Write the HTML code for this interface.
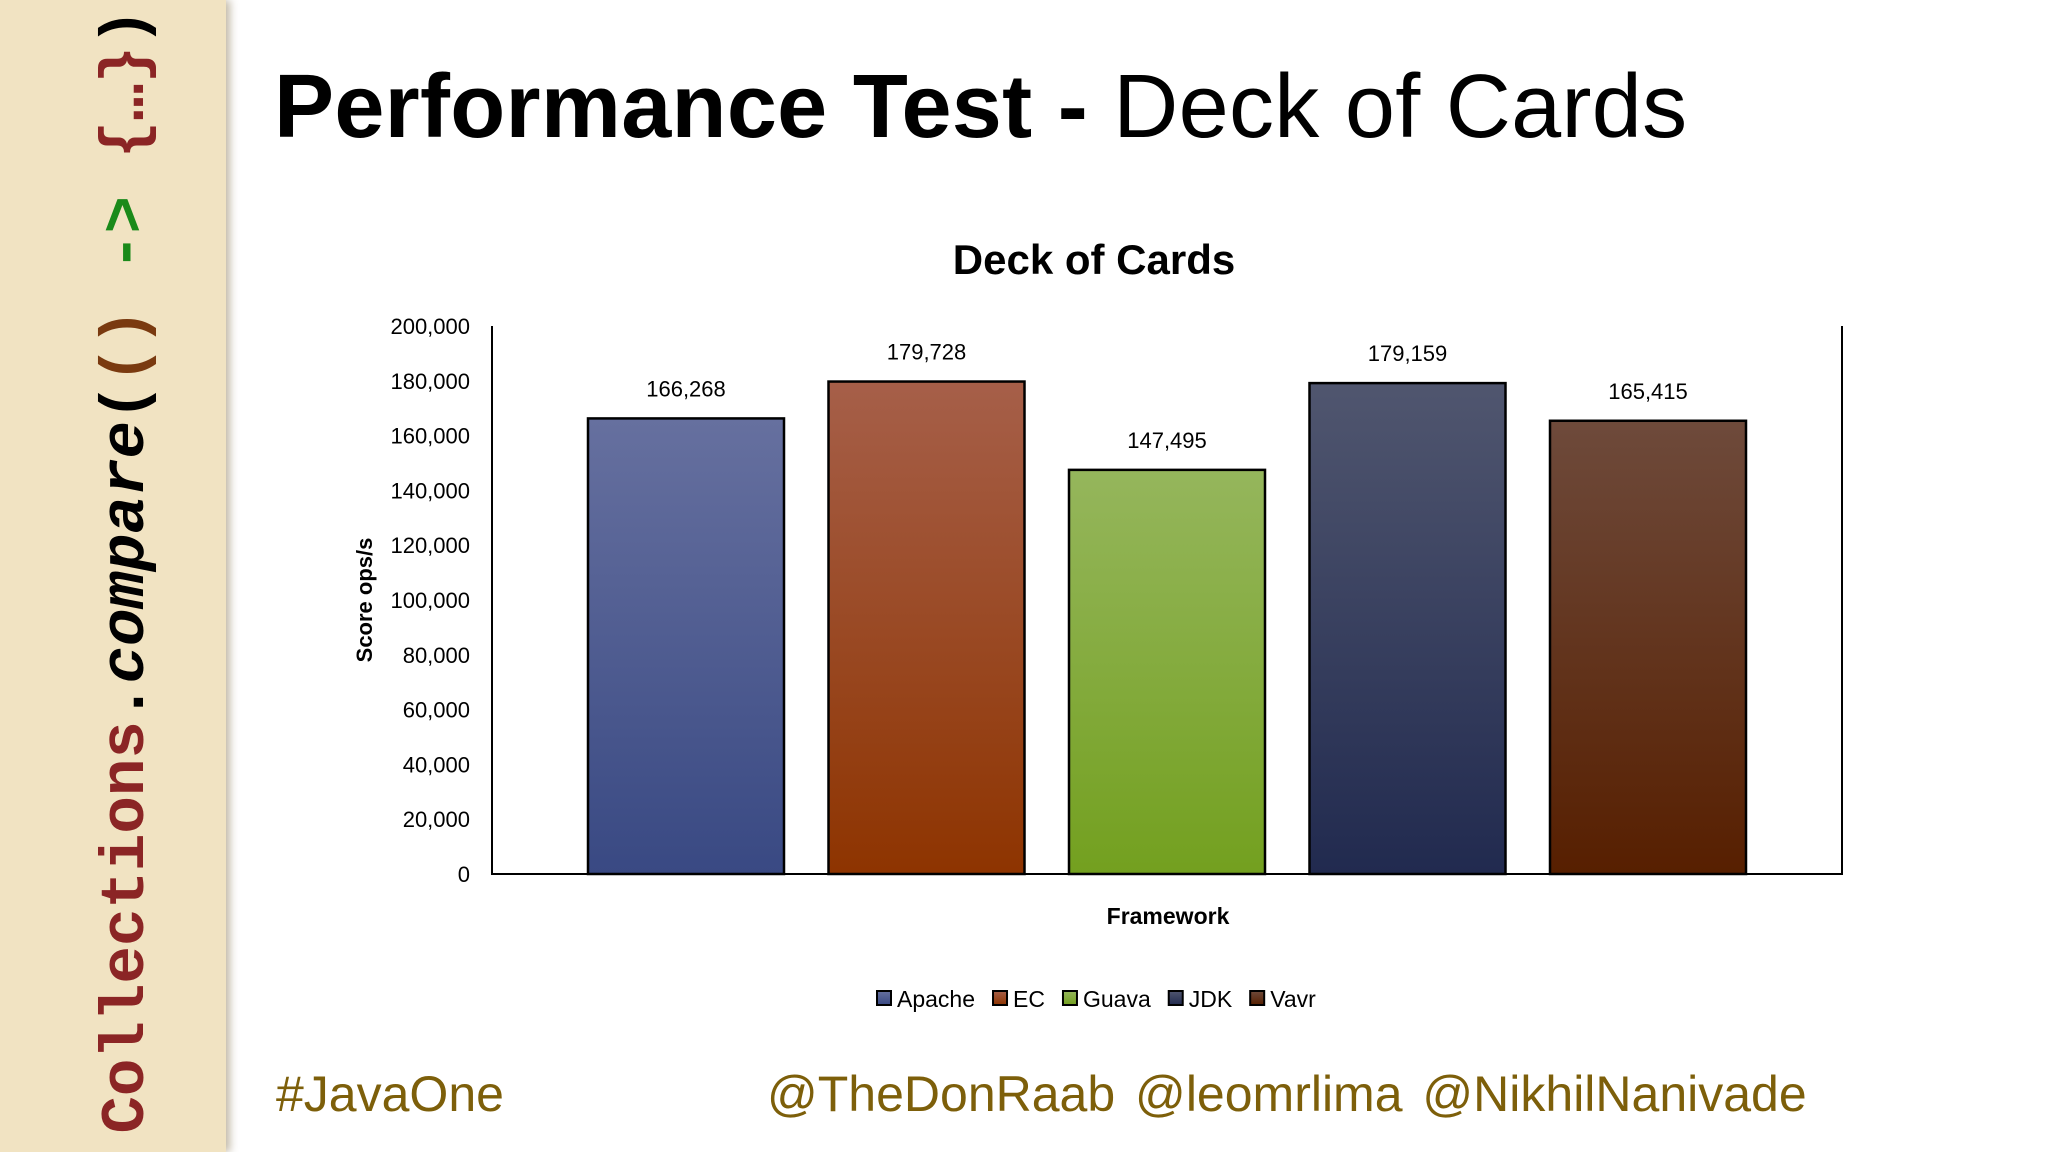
<!DOCTYPE html>
<html><head><meta charset="utf-8"><style>
html,body{margin:0;padding:0;background:#fff;}
body{width:2048px;height:1152px;position:relative;overflow:hidden;font-family:"Liberation Sans",sans-serif;}
#side{position:absolute;left:0;top:0;width:226px;height:1152px;background:#f1e3c2;box-shadow:4px 0 8px rgba(120,100,60,0.45);}
#sidetext{position:absolute;left:127px;top:571px;transform:translate(-50%,-50%) rotate(-90deg);white-space:nowrap;font-family:"Liberation Mono","DejaVu Sans Mono",monospace;font-size:62.5px;line-height:62px;font-weight:bold;}
#title{position:absolute;left:274px;top:52px;font-size:90px;line-height:110px;white-space:nowrap;color:#000;letter-spacing:0.3px;}
.foot{position:absolute;top:1065px;font-size:50px;color:#7d5f0a;white-space:nowrap;}
</style></head><body>
<div id="side">
<div id="sidetext"><span style="color:#8b2525">Collections</span><span style="color:#000">.</span><span style="color:#000;font-style:italic">compare</span><span style="color:#000">(</span><span style="color:#7a3a10">()</span> <span style="color:#1a8a1a">-&gt;</span> <span style="color:#8b2525">{…}</span><span style="color:#000">)</span></div>
</div>
<div id="title"><b>Performance Test -</b> Deck of Cards</div>
<div class="foot" style="left:276px">#JavaOne</div>
<div class="foot" style="left:767px;word-spacing:6px">@TheDonRaab @leomrlima @NikhilNanivade</div>
<svg id="chart" width="2048" height="1152" style="position:absolute;left:0;top:0">
<defs id="defs"></defs>
<text x="1094" y="274" text-anchor="middle" font-size="42" font-weight="bold">Deck of Cards</text>
<text transform="translate(372,600) rotate(-90)" text-anchor="middle" font-size="22" font-weight="bold">Score ops/s</text>
<text x="1168" y="924" text-anchor="middle" font-size="23" font-weight="bold">Framework</text>
<g id="g"></g>
</svg>
<script>
const categories=["Apache","EC","Guava","JDK","Vavr"];
const values=[166268,179728,147495,179159,165415];
const valueLabels=["166,268","179,728","147,495","179,159","165,415"];
const yTicks=[0,20000,40000,60000,80000,100000,120000,140000,160000,180000,200000];
const yTickLabels=["0","20,000","40,000","60,000","80,000","100,000","120,000","140,000","160,000","180,000","200,000"];
const topColors=["#66709f","#a65f49","#95b65c","#50566f","#6e4a3b"];
const botColors=["#394983","#8e3400","#73a01f","#212a4f","#571f00"];
const NS="http://www.w3.org/2000/svg";
const g=document.getElementById('g'),defs=document.getElementById('defs');
const L=492,R=1842,T=326,B=874,yMax=200000;
function y(v){return B-(v/yMax)*(B-T);}
const pad=194,band=(R-L-2*pad)/(categories.length-1);
function xc(i){return L+pad+i*band;}
const bw=196;
function mk(tag,attrs){const e=document.createElementNS(NS,tag);for(const k in attrs)e.setAttribute(k,attrs[k]);return e;}
yTicks.forEach((t,i)=>{const tx=mk('text',{x:470,y:y(t)+8,'text-anchor':'end','font-size':22});tx.textContent=yTickLabels[i];


g.appendChild(tx);});
categories.forEach((c,i)=>{
const gr=mk('linearGradient',{id:'gr'+i,x1:0,y1:0,x2:0,y2:1});
gr.appendChild(mk('stop',{offset:'0','stop-color':topColors[i]}));
gr.appendChild(mk('stop',{offset:'1','stop-color':botColors[i]}));
defs.appendChild(gr);
const r=mk('rect',{x:xc(i)-bw/2,y:y(values[i]),width:bw,height:B-y(values[i]),fill:'url(#gr'+i+')',stroke:'#000','stroke-width':2.5});


g.appendChild(r);
const tx=mk('text',{x:xc(i),y:y(values[i])-22,'text-anchor':'middle','font-size':22});tx.textContent=valueLabels[i];


g.appendChild(tx);
});
const ax=mk('path',{d:`M${L},${T} V${B} H${R} V${T}`,fill:'none',stroke:'#000','stroke-width':2});


g.appendChild(ax);
let lx=877;const ly=1007;
categories.forEach((c,i)=>{
const sw=mk('rect',{x:lx,y:ly-16,width:14,height:14,fill:'url(#gr'+i+')',stroke:'#000','stroke-width':2});


g.appendChild(sw);
const tx=mk('text',{x:lx+20,y:ly,'font-size':23});tx.textContent=c;


g.appendChild(tx);
lx+=20+tx.getComputedTextLength()+18;
});
</script>
</body></html>
